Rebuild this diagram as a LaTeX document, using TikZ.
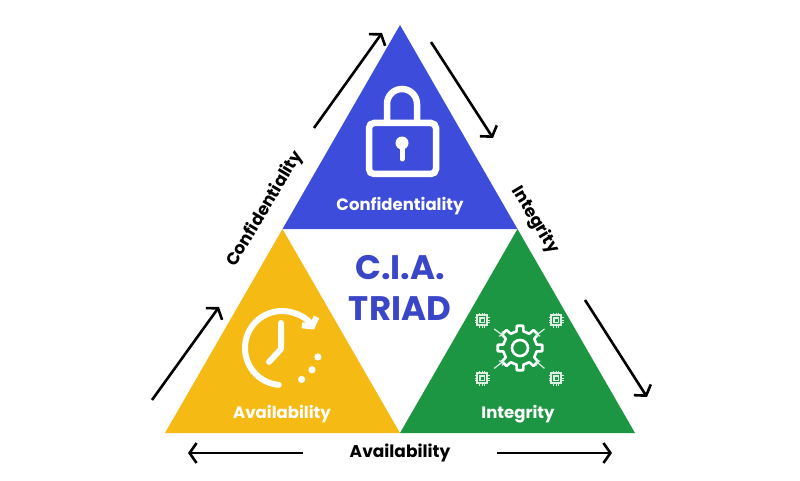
\documentclass[tikz,border=0pt]{standalone}
\usepackage{fontspec}
\setmainfont{Poppins}
\usetikzlibrary{arrows.meta,calc}

\definecolor{ciablue}{RGB}{62,76,220}
\definecolor{ciatext}{RGB}{58,70,200}
\definecolor{ciayellow}{RGB}{246,186,20}
\definecolor{ciagreen}{RGB}{28,150,66}

\tikzset{
	sidearrow/.style={line width=2.6pt,-{Straight Barb[length=7pt,width=20pt]}},
	inlabel/.style={text=white,font=\bfseries\fontsize{16.5}{18}\selectfont},
	outlabel/.style={text=black,font=\bfseries\fontsize{17}{19}\selectfont},
	icon/.style={draw=white,line width=6pt,line cap=round,line join=round},
	thinicon/.style={draw=white!85!ciagreen,line width=1.4pt}
}

\begin{document}
\begin{tikzpicture}[x=1pt,y=1pt]
	\useasboundingbox (0,0) rectangle (800,480);

	% corners of the triad
	\coordinate (top) at (400,455);
	\coordinate (left) at (165,47);
	\coordinate (right) at (635,47);
	\coordinate (midl) at ($(top)!0.5!(left)$);
	\coordinate (midr) at ($(top)!0.5!(right)$);
	\coordinate (midb) at ($(left)!0.5!(right)$);

	% confidentiality
	\fill[ciablue] (top)--(midr)--(midl)--cycle;
	\node[inlabel] (conf) at (400,274) {Confidentiality};

	% availability
	\fill[ciayellow] (midl)--(midb)--(left)--cycle;
	\node[inlabel] (avail) at (282,66) {Availability};

	% integrity
	\fill[ciagreen] (midr)--(right)--(midb)--cycle;
	\node[inlabel] (integ) at (518,66) {Integrity};

	% title
	\node[text=ciatext,font=\bfseries\fontsize{34}{36}\selectfont] (cia) at (400,212) {C.I.A.};
	\node[text=ciatext,font=\bfseries\fontsize{34}{36}\selectfont] (triad) at (400,171) {TRIAD};

	% lock
	\draw[white,line width=6.5pt,rounded corners=5pt] (369,306) rectangle (436,357);
	\draw[white,line width=6.5pt] (387,357) -- (387,376) arc[start angle=180,end angle=0,radius=15] -- (417,357);
	\fill[white] (402,337) circle[radius=6.5];
	\draw[white,line width=5pt,line cap=round] (402,337) -- (402,321);

	% clock
	\draw[icon,-{Straight Barb[length=6pt,width=17pt]}] (282,132) ++(265:37) arc[start angle=265,end angle=30,radius=37];
	\draw[icon] (281,157) -- (281,131) -- (269,118);
	\foreach \a in {-58,-36,-14}
		\fill[white] (282,132) ++(\a:37) circle[radius=3.6];

	% gear
	\coordinate (gear) at (520,132);
	\draw[white,line width=2.6pt,line join=round,shift={(gear)}] (-12:17)
		\foreach \a in {0,45,...,315} { -- ({\a-12}:17) -- ({\a-8}:22.5) -- ({\a+8}:22.5) -- ({\a+12}:17) } -- cycle;
	\draw[white,line width=2.6pt] (gear) circle[radius=8];

	% chips round the gear
	\foreach \name/\x/\y in {chipa/482/160,chipb/556/160,chipc/482/102,chipd/556/102} {
		\coordinate (\name) at (\x,\y);
		\draw[thinicon] (\x-5,\y-5) rectangle (\x+5,\y+5);
		\draw[thinicon] (\x-2.2,\y-2.2) rectangle (\x+2.2,\y+2.2);
		\foreach \p in {-2.5,0,2.5} {
			\draw[thinicon,line width=0.9pt] (\x+\p,\y+5) -- (\x+\p,\y+7.5);
			\draw[thinicon,line width=0.9pt] (\x+\p,\y-5) -- (\x+\p,\y-7.5);
			\draw[thinicon,line width=0.9pt] (\x+5,\y+\p) -- (\x+7.5,\y+\p);
			\draw[thinicon,line width=0.9pt] (\x-5,\y+\p) -- (\x-7.5,\y+\p);
		}
		\draw[thinicon,line width=1.2pt,-{Straight Barb[length=2.5pt,width=6pt]}] ($(\name)!0.32!(gear)$) -- ($(\name)!0.56!(gear)$);
	}

	% side labels
	\node[outlabel,rotate=59] (confside) at (265,271) {Confidentiality};
	\node[outlabel,rotate=-59] (integside) at (535,260) {Integrity};
	\node[outlabel] (availside) at (400,27) {Availability};

	% arrows round the triad
	\coordinate (ula) at (314,352); \coordinate (ulb) at (382,447);
	\coordinate (lla) at (152,80);  \coordinate (llb) at (219,173);
	\coordinate (ura) at (431,438); \coordinate (urb) at (493,342);
	\coordinate (lra) at (585,180); \coordinate (lrb) at (647,83);
	\coordinate (bla) at (303,27);  \coordinate (blb) at (188,27);
	\coordinate (bra) at (497,27);  \coordinate (brb) at (612,27);
	\draw[sidearrow] (ula) -- (ulb);
	\draw[sidearrow] (lla) -- (llb);
	\draw[sidearrow] (ura) -- (urb);
	\draw[sidearrow] (lra) -- (lrb);
	\draw[sidearrow] (bla) -- (blb);
	\draw[sidearrow] (bra) -- (brb);

\end{tikzpicture}
\end{document}
